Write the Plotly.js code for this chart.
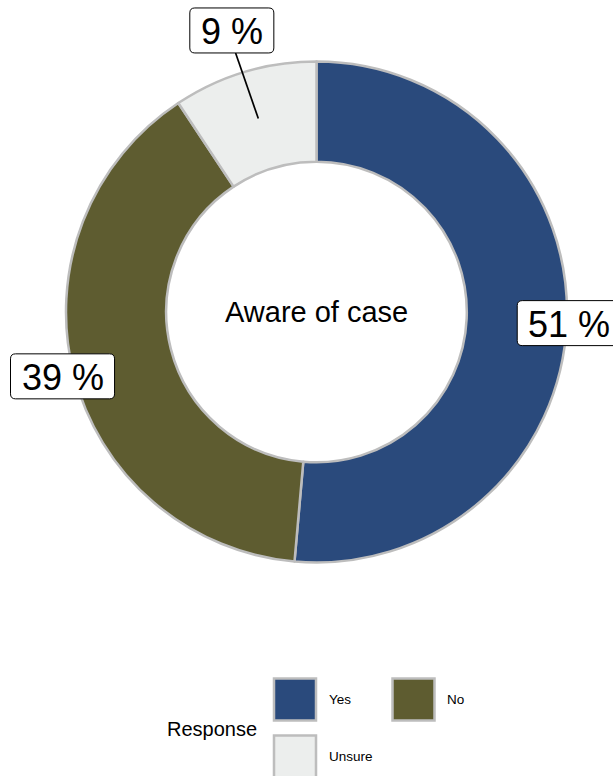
<!DOCTYPE html>
<html><head><meta charset="utf-8">
<script src="https://cdn.plot.ly/plotly-3.0.1.min.js"></script>
<style>html,body{margin:0;padding:0;background:#fff}</style>
</head><body><div id="chart" style="width:613px;height:776px"></div>
<script>
// ---- data ----
const categories = ['Yes', 'No', 'Unsure'];
const values = [51.4, 39.3, 9.3];
const centerTitle = 'Aware of case';
const legendTitle = 'Response';
const colors = ['#2A4A7C', '#5E5C30', '#ECEEED'];

// ---- layout / style ----
const W = 613, H = 776, CX = 316.5, CY = 312, R = 250.5, HOLE = 0.6;
const labelRadius = [253, 262, 294];
const leaderTo = [null, null, 202];
const FONT = 'Liberation Sans, Arial, sans-serif';
const px = x => x / W, py = y => 1 - y / H;

const ctx = document.createElement('canvas').getContext('2d');
ctx.font = '36px "Liberation Sans"';

function roundRect(x0, y0, x1, y1, r) {
  const P = (x, y) => px(x) + ',' + py(y);
  return 'M' + P(x0 + r, y0) + ' L' + P(x1 - r, y0) + ' Q' + P(x1, y0) + ' ' + P(x1, y0 + r) +
    ' L' + P(x1, y1 - r) + ' Q' + P(x1, y1) + ' ' + P(x1 - r, y1) +
    ' L' + P(x0 + r, y1) + ' Q' + P(x0, y1) + ' ' + P(x0, y1 - r) +
    ' L' + P(x0, y0 + r) + ' Q' + P(x0, y0) + ' ' + P(x0 + r, y0) + ' Z';
}

const total = values.reduce((a, b) => a + b, 0);
const shapes = [], annotations = [];
let cum = 0;
values.forEach((v, i) => {
  const mid = (cum + v / 2) / total * 2 * Math.PI;
  cum += v;
  const txt = Math.round(v / total * 100) + ' %';
  const lx = CX + labelRadius[i] * Math.sin(mid);
  const ly = CY - labelRadius[i] * Math.cos(mid);
  const bw = ctx.measureText(txt).width + 22, bh = 45;
  if (leaderTo[i]) {
    const tx = CX + leaderTo[i] * Math.sin(mid), ty = CY - leaderTo[i] * Math.cos(mid);
    const t = (ty - (ly + bh / 2)) / (ty - ly);
    const sx = tx + (lx - tx) * t - 3, sy = ly + bh / 2;
    shapes.push({type: 'line', xref: 'paper', yref: 'paper', x0: px(sx), y0: py(sy), x1: px(tx), y1: py(ty),
      line: {color: '#000', width: 1.7}});
  }
  shapes.push({type: 'path', xref: 'paper', yref: 'paper',
    path: roundRect(lx - bw / 2, ly - bh / 2, lx + bw / 2, ly + bh / 2, 5),
    fillcolor: '#fff', line: {color: '#000', width: 1}});
  annotations.push({xref: 'paper', yref: 'paper', x: px(lx), y: py(ly + 1), xanchor: 'center', yanchor: 'middle',
    text: txt, showarrow: false, font: {family: FONT, size: 36, color: '#000'}});
});

annotations.push({xref: 'paper', yref: 'paper', x: px(CX), y: py(CY), xanchor: 'center', yanchor: 'middle',
  text: centerTitle, showarrow: false, font: {family: FONT, size: 29, color: '#000'}});

// legend
const LX0 = 273, LY0 = 677.5, colStep = 118.5, rowStep = 57, sq = 44;
categories.forEach((c, i) => {
  const col = i % 2, row = Math.floor(i / 2);
  const x0 = LX0 + col * colStep, y0 = LY0 + row * rowStep;
  shapes.push({type: 'rect', xref: 'paper', yref: 'paper', x0: px(x0 + 1), y0: py(y0 + 1), x1: px(x0 + sq - 1), y1: py(y0 + sq - 1),
    fillcolor: colors[i], line: {color: '#BDBDBD', width: 2.5}});
  annotations.push({xref: 'paper', yref: 'paper', x: px(x0 + 54), y: py(y0 + sq / 2), xanchor: 'left', yanchor: 'middle',
    text: c, showarrow: false, font: {family: FONT, size: 13.5, color: '#000'}});
});
annotations.push({xref: 'paper', yref: 'paper', x: px(165), y: py(729), xanchor: 'left', yanchor: 'middle',
  text: legendTitle, showarrow: false, font: {family: FONT, size: 20, color: '#000'}});

const trace = {
  type: 'pie', labels: categories, values: values, hole: HOLE, sort: false, direction: 'clockwise', rotation: 0,
  marker: {colors: colors, line: {color: '#BDBDBD', width: 2.5}},
  textinfo: 'none', hoverinfo: 'label+percent', showlegend: false,
  domain: {x: [px(CX - R), px(CX + R)], y: [py(CY + R), py(CY - R)]}
};

Plotly.newPlot('chart', [trace], {
  width: W, height: H, margin: {l: 0, r: 0, t: 0, b: 0},
  paper_bgcolor: '#fff', plot_bgcolor: '#fff', showlegend: false,
  shapes: shapes, annotations: annotations
}, {displayModeBar: false, staticPlot: true});
</script></body></html>
